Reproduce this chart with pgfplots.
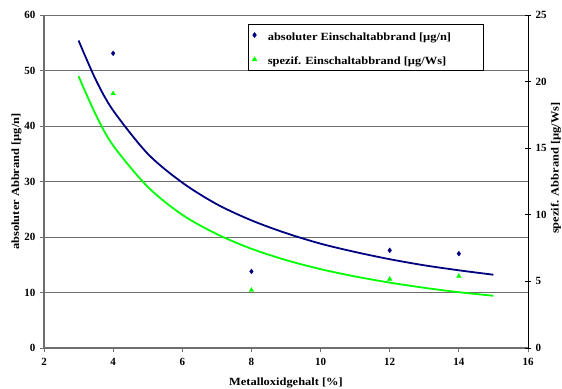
\documentclass[border=0pt]{standalone}
\usepackage{fontspec}
\setmainfont{Liberation Serif}[UprightFont={* Bold}]
\newfontfamily\lblfont{Liberation Serif}[UprightFont={* Bold}, FakeStretch=1.13]
\newcommand\lbl{\fontsize{11bp}{12bp}\lblfont}
\newcommand\tfont{\fontsize{11bp}{12bp}\selectfont}
\newcommand\lentry[1]{\makebox[219bp][l]{\hspace*{9bp}\rule[-7bp]{0pt}{19bp}\lbl #1}}
\usepackage{pgfplots}
\pgfplotsset{compat=1.18}
\definecolor{navy}{RGB}{0,0,128}
\definecolor{lgreen}{RGB}{0,255,0}
\definecolor{axgray}{RGB}{110,110,110}
\begin{document}
\begin{tikzpicture}
\useasboundingbox (-44bp,-41bp) rectangle (518bp,348bp);
\begin{axis}[
  scale only axis, width=484bp, height=333bp,
  xmin=2, xmax=16, ymin=0, ymax=60,
  axis y line*=left, axis x line*=bottom,
  axis line style={axgray, line width=1.3bp, -},
  xtick={2,4,...,16}, ytick={0,10,...,60},
  ymajorgrids, grid style={axgray, line width=0.8bp},
  tick align=outside, major tick length=4bp,
  tick style={axgray, line width=0.9bp},
  /pgf/number format/assume math mode=true,
  xticklabel={\tfont\pgfmathprintnumber{\tick}},
  yticklabel={\tfont\pgfmathprintnumber{\tick}},
  yticklabel style={xshift=-1bp},
  xticklabel style={yshift=-3bp},
  xlabel={\lbl Metalloxidgehalt [\%]},
  ylabel={\lbl absoluter Abbrand [µg/n]},
  every axis x label/.style={at={(axis description cs:0.5,0)}, anchor=center, yshift=-35bp},
  every axis y label/.style={at={(axis description cs:-0.057,0.5)}, anchor=center, rotate=90},
  legend style={at={(axis description cs:0.4215,0.973)}, anchor=north west,
    draw=black, line width=0.6bp, fill=white, font=\lbl,
    inner xsep=4bp, inner ysep=2bp, row sep=7bp},
  legend cell align=left,
  clip=false,
]
\addplot[navy, line width=1.8bp, smooth, forget plot] coordinates {
 (3,55.4) (3.5,48.3) (4,42.8) (5,35.0) (6,29.8) (7,25.9) (8,23.0) (9,20.7)
 (10,18.8) (11,17.3) (12,16.0) (13,14.9) (14,14.0) (15,13.2)};
\addplot[only marks, mark=diamond*, mark size=2.4bp, navy] coordinates {
 (4,53.1) (8,13.8) (12,17.6) (14,17.0)};
\addlegendentry{\lentry{absoluter Einschaltabbrand [µg/n]}}
\addlegendimage{only marks, mark=triangle*, mark size=2.6bp, lgreen}
\addlegendentry{\lentry{spezif. Einschaltabbrand [µg/Ws]}}
\end{axis}
\begin{axis}[
  scale only axis, width=484bp, height=333bp,
  xmin=2, xmax=16, ymin=0, ymax=25,
  axis y line*=right, axis x line=none,
  axis line style={black, line width=1bp, -},
  ytick={0,5,...,25},
  tick align=center, major tick length=6bp,
  tick style={black, line width=0.8bp},
  /pgf/number format/assume math mode=true,
  yticklabel={\tfont\pgfmathprintnumber{\tick}},
  yticklabel style={xshift=1bp},
  ylabel={\lbl spezif. Abbrand [µg/Ws]},
  every axis y label/.style={at={(axis description cs:1.058,0.54)}, anchor=center, rotate=90},
  clip=false,
]
\addplot[lgreen, line width=1.8bp, smooth] coordinates {
 (3,20.4) (3.5,17.5) (4,15.2) (5,12.1) (6,10.0) (7,8.55) (8,7.45) (9,6.6)
 (10,5.92) (11,5.37) (12,4.91) (13,4.52) (14,4.19) (15,3.92)};
\addplot[only marks, mark=triangle*, mark size=2.6bp, lgreen] coordinates {
 (4,19.1) (8,4.34) (12,5.17) (14,5.39)};
\end{axis}
\end{tikzpicture}
\end{document}
